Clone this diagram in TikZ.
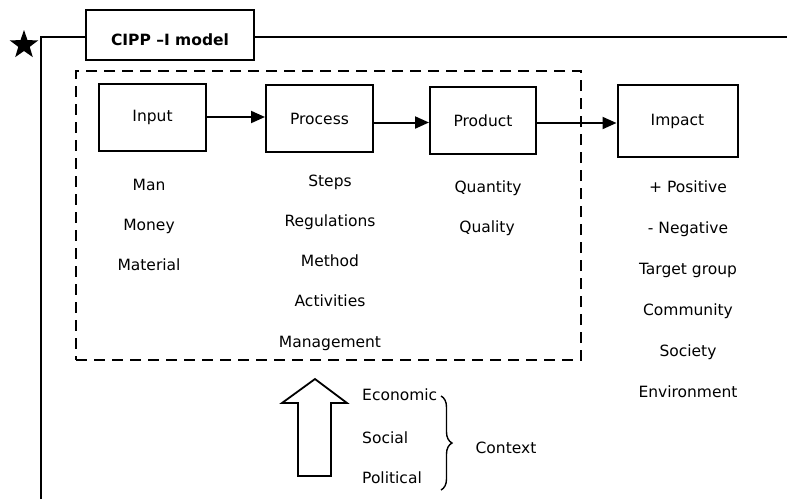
\documentclass[tikz,border=0pt]{standalone}
\usepackage{fontspec}
\setmainfont{DejaVu Sans}
\usetikzlibrary{shapes.geometric, arrows.meta, decorations.pathreplacing}
\begin{document}
\begin{tikzpicture}[x=1pt,y=-1pt, font=\fontsize{15.5}{18}\selectfont,
  box/.style={draw, line width=2pt, inner sep=0pt},
  lbl/.style={inner sep=0pt, text height=11pt, text depth=0pt},
  flow/.style={line width=2pt, -{Triangle[length=14pt,width=12pt]}},
  frameline/.style={line width=1.6pt},
  dashbox/.style={draw, line width=2pt, dash pattern=on 11pt off 7pt, inner sep=0pt},
  bigarrow/.style={draw, line width=1.8pt, line join=miter},
  bracestyle/.style={line width=1.4pt, decorate, decoration={brace, amplitude=11pt}}]
\useasboundingbox (0,0) rectangle (787,499);

% frame
\node[star, star points=5, star point ratio=2.5, fill=black, minimum size=30pt, inner sep=0pt] (starmark) at (24,45) {};
\node[box, minimum width=168pt, minimum height=50pt, text height=21pt, text depth=0pt,
      font=\fontsize{15.5}{18}\selectfont\bfseries] (title) at (170,35) {CIPP –I model};
\coordinate (fbot) at (41,499);
\coordinate (fcorner) at (41,37);
\coordinate (fright) at (787,37);
\draw[frameline] (fbot) -- (fcorner) -- (fcorner -| title.west);
\draw[frameline] (fcorner -| title.east) -- (fright);

% dashed group
\node[dashbox, minimum width=505pt, minimum height=289pt] (group) at (328.5,215.5) {};

% boxes
\node[box, minimum width=107pt, minimum height=67pt] (input) at (152.5,117) {Input};
\node[box, minimum width=107pt, minimum height=67pt] (process) at (319.5,118.5) {Process};
\node[box, minimum width=106pt, minimum height=67pt] (product) at (483,120.5) {Product};
\node[box, minimum width=120pt, minimum height=72pt] (impact) at (677.5,121) {Impact};

\coordinate (lvlA) at (0,122.5);
\coordinate (lvlB) at (0,123);
\draw[flow] (input.east) -- (input.east -| process.west);
\draw[flow] (process.east |- lvlA) -- (product.west |- lvlA);
\draw[flow] (product.east |- lvlB) -- (impact.west |- lvlB);

% input list
\node[lbl] (man) at (149,185) {Man};
\node[lbl] (money) at (149,225) {Money};
\node[lbl] (material) at (149,265) {Material};

% process list
\node[lbl] (steps) at (330,181) {Steps};
\node[lbl] (regulations) at (330,221) {Regulations};
\node[lbl] (method) at (330,261) {Method};
\node[lbl] (activities) at (330,301) {Activities};
\node[lbl] (management) at (330,342) {Management};

% product list
\node[lbl] (quantity) at (488,187) {Quantity};
\node[lbl] (quality) at (487,227) {Quality};

% impact list
\node[lbl] (positive) at (688,187) {+ Positive};
\node[lbl] (negative) at (688,228) {- Negative};
\node[lbl] (target) at (688,269) {Target group};
\node[lbl] (community) at (688,310) {Community};
\node[lbl] (society) at (688,351) {Society};
\node[lbl] (environment) at (688,392) {Environment};

% context arrow
\draw[bigarrow] (298,476) -- (298,403) -- (282,403) -- (315,379) -- (347,403) -- (331,403) -- (331,476) -- cycle;

\node[lbl, anchor=west] (economic) at (362,395) {Economic};
\node[lbl, anchor=west] (social) at (362,438) {Social};
\node[lbl, anchor=west] (political) at (362,478) {Political};

\coordinate (btop) at (441,396);
\coordinate (bbot) at (441,490);
\draw[bracestyle] (btop) -- (bbot);
\node[lbl] (context) at (506,448) {Context};
\end{tikzpicture}
\end{document}
